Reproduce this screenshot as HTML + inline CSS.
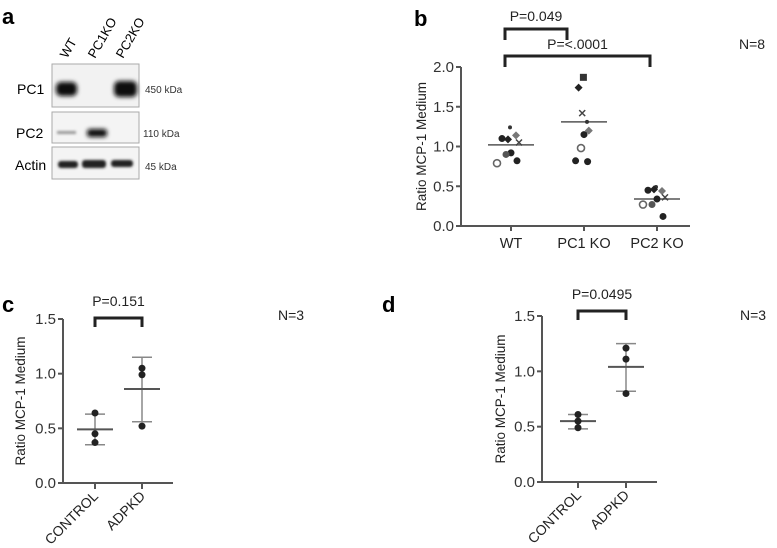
<!DOCTYPE html>
<html><head><meta charset="utf-8"><style>
body{margin:0;background:#fff}
svg{font-family:"Liberation Sans",sans-serif;display:block}
</style></head><body>
<svg id="fig" width="777" height="548" viewBox="0 0 777 548">
<defs>
<filter id="blur"><feGaussianBlur stdDeviation="2"/></filter>
<filter id="blur1"><feGaussianBlur stdDeviation="1.2"/></filter>
</defs>
<g>
<text x="2" y="24" font-size="22" font-weight="bold">a</text>
<text transform="translate(67,59) rotate(-60)" font-size="13">WT</text>
<text transform="translate(95,59) rotate(-60)" font-size="13">PC1KO</text>
<text transform="translate(123,59) rotate(-60)" font-size="13">PC2KO</text>
<rect x="52" y="64" width="87" height="43" fill="#f2f2f2" stroke="#aaa"/>
<rect x="52" y="112" width="87" height="31" fill="#f4f4f4" stroke="#aaa"/>
<rect x="52" y="147" width="87" height="32" fill="#f4f4f4" stroke="#aaa"/>
<g filter="url(#blur)">
<rect x="56" y="82" width="21" height="14" rx="5" fill="#111"/>
<rect x="114" y="81" width="23" height="16" rx="5" fill="#111"/>
<rect x="87" y="129" width="20" height="8" rx="3" fill="#111"/>
</g>
<g filter="url(#blur1)">
<rect x="57" y="131" width="19" height="3" fill="#999"/>
<rect x="58" y="161" width="20" height="7" rx="3" fill="#222"/>
<rect x="82" y="160" width="24" height="8" rx="3" fill="#222"/>
<rect x="111" y="160" width="22" height="7" rx="3" fill="#222"/>
</g>
<text x="17" y="94" font-size="14">PC1</text>
<text x="16" y="138" font-size="14">PC2</text>
<text x="15" y="170" font-size="14">Actin</text>
<text x="145" y="93" font-size="10" fill="#333">450 kDa</text>
<text x="143" y="137" font-size="10" fill="#333">110 kDa</text>
<text x="145" y="170" font-size="10" fill="#333">45 kDa</text>
</g>
<g id="pb"></g>
<g id="pc"></g>
<g id="pd"></g>
</svg>
<script>
const NS="http://www.w3.org/2000/svg";
// Panel b data
const bCategories=["WT","PC1 KO","PC2 KO"];
const bMeans=[1.02,1.31,0.34];
const bWT=[1.24,1.10,1.09,1.14,1.05,0.92,0.90,0.79,0.82];
const bPC1=[1.87,1.74,1.42,1.31,1.20,1.15,0.98,0.82,0.81];
const bPC2=[0.49,0.45,0.46,0.44,0.36,0.34,0.27,0.27,0.12];
const bTicks=[0,0.5,1.0,1.5,2.0];
// Panel c data
const cCategories=["CONTROL","ADPKD"];
const cMeans=[0.49,0.86];
const cLow=[0.35,0.56];
const cHigh=[0.63,1.15];
const cControl=[0.64,0.45,0.37];
const cADPKD=[1.05,0.99,0.52];
// Panel d data
const dCategories=["CONTROL","ADPKD"];
const dMeans=[0.55,1.04];
const dLow=[0.48,0.82];
const dHigh=[0.61,1.25];
const dControl=[0.61,0.55,0.49];
const dADPKD=[1.21,1.11,0.80];
const cdTicks=[0,0.5,1.0,1.5];

function mk(parent,tag,attrs,text){const e=document.createElementNS(NS,tag);for(const k in attrs)e.setAttribute(k,attrs[k]);if(text!==undefined)e.textContent=text;parent.appendChild(e);return e;}
const AX="#555";

function axes(g,x0,x1,yTop,yBot,max,ticks,title,titleX){
  const ys=v=>yBot-(v/max)*(yBot-yTop);
  const yl=mk(g,'line',{x1:x0,y1:yTop,x2:x0,y2:yBot,stroke:AX,'stroke-width':2});
  
  const xl=mk(g,'line',{x1:x0,y1:yBot,x2:x1,y2:yBot,stroke:AX,'stroke-width':2});
  
  ticks.forEach(t=>{
    mk(g,'line',{x1:x0-5,y1:ys(t),x2:x0,y2:ys(t),stroke:AX,'stroke-width':2});
    const tl=mk(g,'text',{x:x0-7,y:ys(t)+5,'font-size':15,fill:'#333','text-anchor':'end'},t.toFixed(1));
    
    
  });
  const tt=mk(g,'text',{transform:`translate(${titleX},${(yTop+yBot)/2}) rotate(-90)`,'font-size':13.5,fill:'#222','text-anchor':'middle'},title);
  
  
  return ys;
}
function bracket(g,xa,xb,yt,yb,label,ly){
  const p=mk(g,'path',{d:`M${xa},${yb}V${yt}H${xb}V${yb}`,fill:'none',stroke:'#222','stroke-width':3});
  
  
  const t=mk(g,'text',{x:(xa+xb)/2,y:ly,'font-size':14,fill:'#222','text-anchor':'middle'},label);
  
  
}

(function(){
  const g=document.getElementById('pb');
  mk(g,'text',{x:414,y:26,'font-size':22,'font-weight':'bold'},'b');
  const n=mk(g,'text',{x:739,y:49,'font-size':14,fill:'#222'},'N=8');
  
  const ys=axes(g,461,690,67,226,2.0,bTicks,'Ratio MCP-1 Medium',426);
  const xs=i=>511+i*73;
  bCategories.forEach((c,i)=>{
    mk(g,'line',{x1:xs(i),y1:226,x2:xs(i),y2:231,stroke:AX,'stroke-width':2});
    const t=mk(g,'text',{x:xs(i),y:248,'font-size':14.5,fill:'#222','text-anchor':'middle'},c);
    
  });
  bracket(g,505,567,29,40,'P=0.049',21);
  bracket(g,505,650,56,67,'P=<.0001',49);
  const series=[bWT,bPC1,bPC2];
  const shapes=['sdot','dot','dia','gdia','x','dot','gdot','open','dot'];
  const shapesPC1=['sq','dia','x','sdot','gdia','dot','open','dot','dot'];
  const off=[-1,-9,-3,5,8,0,-5,-14,6];
  series.forEach((arr,i)=>{
    const ml=mk(g,'line',{x1:xs(i)-23,y1:ys(bMeans[i]),x2:xs(i)+23,y2:ys(bMeans[i]),stroke:'#555','stroke-width':1.5});
    
    arr.forEach((v,j)=>{
      const sh=(i===1?shapesPC1:shapes)[j];
      const cx=xs(i)+off[j]*(i===1?0.6:1), cy=ys(v);
      let e;
      if(sh==='dot')e=mk(g,'circle',{cx,cy,r:3.5,fill:'#222'});
      else if(sh==='sdot')e=mk(g,'circle',{cx,cy,r:2,fill:'#333'});
      else if(sh==='gdot')e=mk(g,'circle',{cx,cy,r:3.5,fill:'#555'});
      else if(sh==='open')e=mk(g,'circle',{cx,cy,r:3.5,fill:'none',stroke:'#666','stroke-width':1.6});
      else if(sh==='dia')e=mk(g,'path',{d:`M${cx},${cy-4}L${cx+4},${cy}L${cx},${cy+4}L${cx-4},${cy}Z`,fill:'#222'});
      else if(sh==='gdia')e=mk(g,'path',{d:`M${cx},${cy-4}L${cx+4},${cy}L${cx},${cy+4}L${cx-4},${cy}Z`,fill:'#777'});
      else if(sh==='sq')e=mk(g,'rect',{x:cx-3.5,y:cy-3.5,width:7,height:7,fill:'#333'});
      else e=mk(g,'path',{d:`M${cx-3},${cy-3}L${cx+3},${cy+3}M${cx+3},${cy-3}L${cx-3},${cy+3}`,stroke:'#444','stroke-width':1.5});
      
      
    });
  });
})();

function cdPanel(id,letter,lx,x0,x1,yTop,yBot,cats,means,low,high,pts,xc,pLabel,bY,nX,titleX){
  const g=document.getElementById(id);
  mk(g,'text',{x:lx,y:312,'font-size':22,'font-weight':'bold'},letter);
  const n=mk(g,'text',{x:nX,y:320,'font-size':14,fill:'#222'},'N=3');
  
  const ys=axes(g,x0,x1,yTop,yBot,1.5,cdTicks,'Ratio MCP-1 Medium',titleX);
  cats.forEach((c,i)=>{
    const x=xc[i];
    mk(g,'line',{x1:x,y1:yBot,x2:x,y2:yBot+6,stroke:AX,'stroke-width':2});
    const t=mk(g,'text',{transform:`translate(${x+4},${yBot+14}) rotate(-45)`,'font-size':14,fill:'#222','text-anchor':'end'},c);
    
    const eb=mk(g,'path',{d:`M${x},${ys(low[i])}V${ys(high[i])}M${x-10},${ys(low[i])}H${x+10}M${x-10},${ys(high[i])}H${x+10}`,stroke:'#888','stroke-width':1.5,fill:'none'});
    
    const ml=mk(g,'line',{x1:x-18,y1:ys(means[i]),x2:x+18,y2:ys(means[i]),stroke:'#555','stroke-width':2});
    
    pts[i].forEach(v=>{
      const p=mk(g,'circle',{cx:x,cy:ys(v),r:3.5,fill:'#222'});
      
      
    });
  });
  bracket(g,xc[0],xc[1],bY,bY+9,pLabel,bY-12);
}
cdPanel('pc','c',2,63,173,319,483,cCategories,cMeans,cLow,cHigh,[cControl,cADPKD],[95,142],'P=0.151',318,278,25);
cdPanel('pd','d',382,542,657,316,482,dCategories,dMeans,dLow,dHigh,[dControl,dADPKD],[578,626],'P=0.0495',311,740,505);
</script>
</body></html>
